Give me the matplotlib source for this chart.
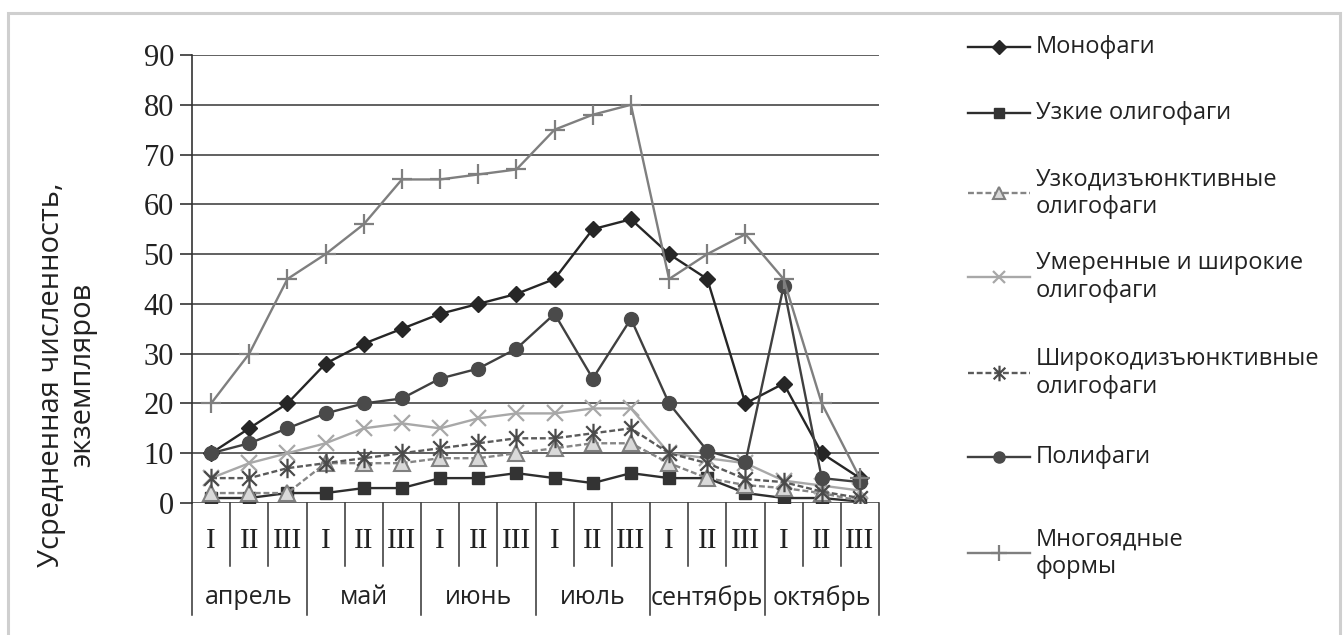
import matplotlib.pyplot as plt
from matplotlib.lines import Line2D
from matplotlib.patches import Rectangle
from matplotlib.path import Path

# decades of each month
decades = ['I', 'II', 'III'] * 6
months = ['апрель', 'май', 'июнь', 'июль', 'сентябрь', 'октябрь']

mono = [10, 15, 20, 28, 32, 35, 38, 40, 42, 45, 55, 57, 50, 45, 20, 24, 10, 5]
uzkie = [1, 1, 2, 2, 3, 3, 5, 5, 6, 5, 4, 6, 5, 5, 2, 1, 1, 0.3]
uzkodiz = [2, 2, 2, 8, 8, 8, 9, 9, 10, 11, 12, 12, 8, 5, 3.6, 3, 2, 0.4]
umer = [5, 8, 10, 12, 15, 16, 15, 17, 18, 18, 19, 19, 10, 9, 8, 4.5, 3.5, 2.5]
shirokodiz = [5, 5, 7, 8, 9, 10, 11, 12, 13, 13, 14, 15, 10, 8, 4.8, 4.2, 2.3, 1]
poli = [10, 12, 15, 18, 20, 21, 25, 27, 31, 38, 25, 37, 20, 10.5, 8.2, 43.5, 5, 4.2]
mnogo = [20, 30, 45, 50, 56, 65, 65, 66, 67, 75, 78, 80, 45, 50, 54, 45, 20, 5]

labels = ['Монофаги', 'Узкие олигофаги', 'Узкодизъюнктивные\nолигофаги',
          'Умеренные и широкие\nолигофаги', 'Широкодизъюнктивные\nолигофаги',
          'Полифаги', 'Многоядные\nформы']

asterisk = Path([(0, -1), (0, 1), (-0.75, -0.75), (0.75, 0.75), (-0.75, 0.75), (0.75, -0.75)],
                [Path.MOVETO, Path.LINETO] * 3)

styles = [
    dict(color='#262626', marker='D', ms=8.5, mfc='#262626', mec='#262626', ls='-'),
    dict(color='#2e2e2e', marker='s', ms=8.5, mfc='#333333', mec='#333333', ls='-'),
    dict(color='#858585', marker='^', ms=11, mfc='#d9d9d9', mec='#808080', mew=1.5, ls=(0, (2.5, 1.2))),
    dict(color='#a8a8a8', marker='x', ms=11, mec='#a8a8a8', mew=1.6, ls='-'),
    dict(color='#5a5a5a', marker=asterisk, ms=14, mec='#4a4a4a', mew=1.6, ls=(0, (2.5, 1.2))),
    dict(color='#404040', marker='o', ms=10, mfc='#4a4a4a', mec='#4a4a4a', ls='-'),
    dict(color='#7f7f7f', marker='+', ms=14, mec='#7f7f7f', mew=1.6, ls='-'),
]
series = [mono, uzkie, uzkodiz, umer, shirokodiz, poli, mnogo]

fig = plt.figure(figsize=(13.43, 6.35), dpi=100)
ax = fig.add_axes([192 / 1343, 1 - 503 / 635, 687 / 1343, 448 / 635])

x = list(range(len(decades)))
for s, st in zip(series, styles):
    ax.plot(x, s, lw=1.7, zorder=3, **st)

ax.set_xlim(-0.5, len(decades) - 0.5)
ax.set_ylim(0, 90)
ax.set_yticks(range(0, 91, 10))
ax.yaxis.grid(True, color='#454545', lw=1.2)
ax.set_axisbelow(True)
for sp in ['top', 'right', 'bottom']:
    ax.spines[sp].set_visible(False)
ax.spines['left'].set_color('#333333')
ax.spines['left'].set_linewidth(1.2)
ax.tick_params(axis='y', length=9, width=1.2, color='#333333', pad=4,
               labelsize=22, labelfontfamily='Liberation Serif', labelcolor='#222222')
ax.set_xticks([])

# category table under the axis
tr = ax.get_xaxis_transform()
for i, d in enumerate(decades):
    ax.text(i, -0.085, d, transform=tr, ha='center', va='center',
            fontsize=21, family='Liberation Serif', color='#222222')
for k in range(len(decades) + 1):
    bottom = -0.25 if k % 3 == 0 else -0.14
    ax.plot([k - 0.5, k - 0.5], [0, bottom], transform=tr, color='#333333',
            lw=1.1, clip_on=False)
for j, m in enumerate(months):
    ax.text(3 * j + 1, -0.212, m, transform=tr, ha='center', va='center',
            fontsize=18, family='Open Sans', color='#222222')

fig.text(67 / 1343, 1 - 375 / 635, 'Усредненная численность,\nэкземпляров',
         rotation=90, ha='center', va='center', multialignment='center',
         fontsize=21, family='Open Sans', color='#222222', linespacing=1.1)

# legend
leg_y = [47, 113, 193, 277, 373, 457, 553]
for lab, st, yy in zip(labels, styles, leg_y):
    yf = 1 - yy / 635
    fig.add_artist(Line2D([968 / 1343, 1030 / 1343], [yf, yf], lw=1.7,
                          markevery=[], **{k: v for k, v in st.items() if k not in ('ms',)}))
    fig.add_artist(Line2D([999 / 1343], [yf], lw=0, ms=st['ms'] * 0.8,
                          **{k: v for k, v in st.items() if k not in ('ms', 'ls')}))
    fig.text(1036 / 1343, yf, lab, ha='left', va='center', fontsize=17,
             family='Open Sans', color='#222222', linespacing=1.2)

fig.add_artist(Rectangle((8 / 1343, -0.05), 1332 / 1343, 1.05 - 13 / 635,
                         transform=fig.transFigure, fill=False,
                         ec='#cfcfcf', lw=2.2))

fig.savefig('out.png', dpi=100)
